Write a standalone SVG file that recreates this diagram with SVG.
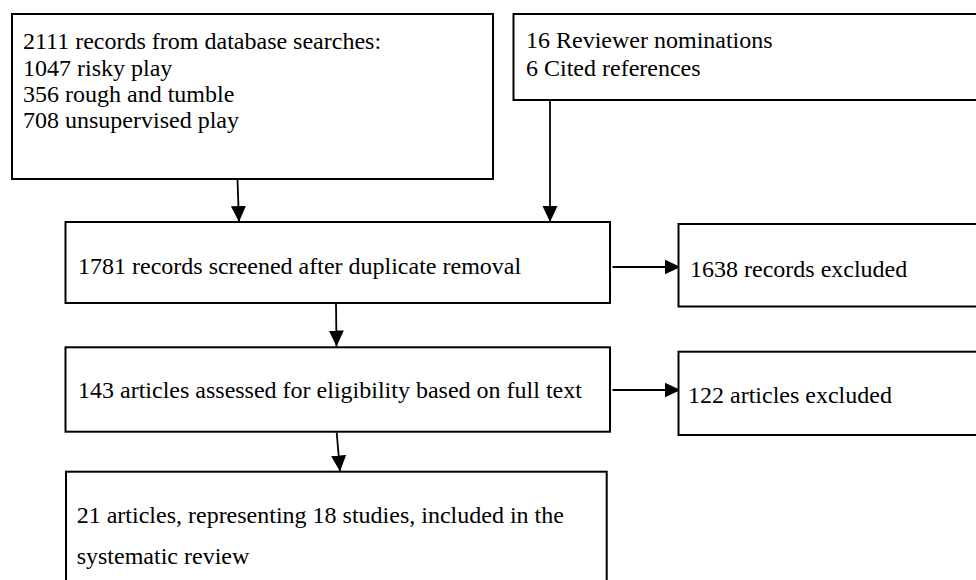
<svg xmlns="http://www.w3.org/2000/svg" width="976" height="580" viewBox="0 0 976 580">
<style>
.box{fill:#fff;stroke:#000;stroke-width:2}
.t{font-family:"Liberation Serif","Times New Roman",serif;font-size:24px;fill:#000}
.c{stroke:#000;stroke-width:1.8;fill:none;marker-end:url(#ah)}
</style>
<defs>
<marker id="ah" markerUnits="userSpaceOnUse" markerWidth="18" markerHeight="18" viewBox="0 0 18 18" refX="16" refY="9" orient="auto">
<path d="M0,1.5 L16,9 L0,16.5 Z" fill="#000"/>
</marker>
</defs>
<rect width="976" height="580" fill="#fff"/>
<g id="connectors">
<line class="c" x1="237.5" y1="180" x2="239" y2="222"/>
<line class="c" x1="550" y1="100" x2="550" y2="222"/>
<line class="c" x1="612.5" y1="267" x2="680.5" y2="267"/>
<line class="c" x1="336" y1="303.5" x2="336.5" y2="346.5"/>
<line class="c" x1="612.5" y1="390" x2="680.5" y2="390"/>
<line class="c" x1="336.7" y1="432.5" x2="340" y2="471.5"/>
</g>
<g id="n1">
<rect class="box" x="12" y="14" width="481" height="165"/>
<text class="t" x="23" y="49">2111 records from database searches:</text>
<text class="t" x="23" y="75.5">1047 risky play</text>
<text class="t" x="23" y="102">356 rough and tumble</text>
<text class="t" x="23" y="128.3">708 unsupervised play</text>
</g>
<g id="n2">
<rect class="box" x="513.5" y="14" width="470" height="86"/>
<text class="t" x="526" y="47.7">16 Reviewer nominations</text>
<text class="t" x="526" y="76">6 Cited references</text>
</g>
<g id="n3">
<rect class="box" x="65.5" y="222" width="544.5" height="81"/>
<text class="t" x="78" y="274">1781 records screened after duplicate removal</text>
</g>
<g id="n4">
<rect class="box" x="678.5" y="224" width="305" height="82.5"/>
<text class="t" x="690" y="277">1638 records excluded</text>
</g>
<g id="n5">
<rect class="box" x="65.5" y="347.3" width="544.5" height="84.4"/>
<text class="t" x="78" y="398">143 articles assessed for eligibility based on full text</text>
</g>
<g id="n6">
<rect class="box" x="678.5" y="351.7" width="305" height="83.3"/>
<text class="t" x="688" y="403">122 articles excluded</text>
</g>
<g id="n7">
<rect class="box" x="66" y="471.7" width="540.7" height="120"/>
<text class="t" x="76.7" y="523.3">21 articles, representing 18 studies, included in the</text>
<text class="t" x="76.7" y="564">systematic review</text>
</g>
</svg>
